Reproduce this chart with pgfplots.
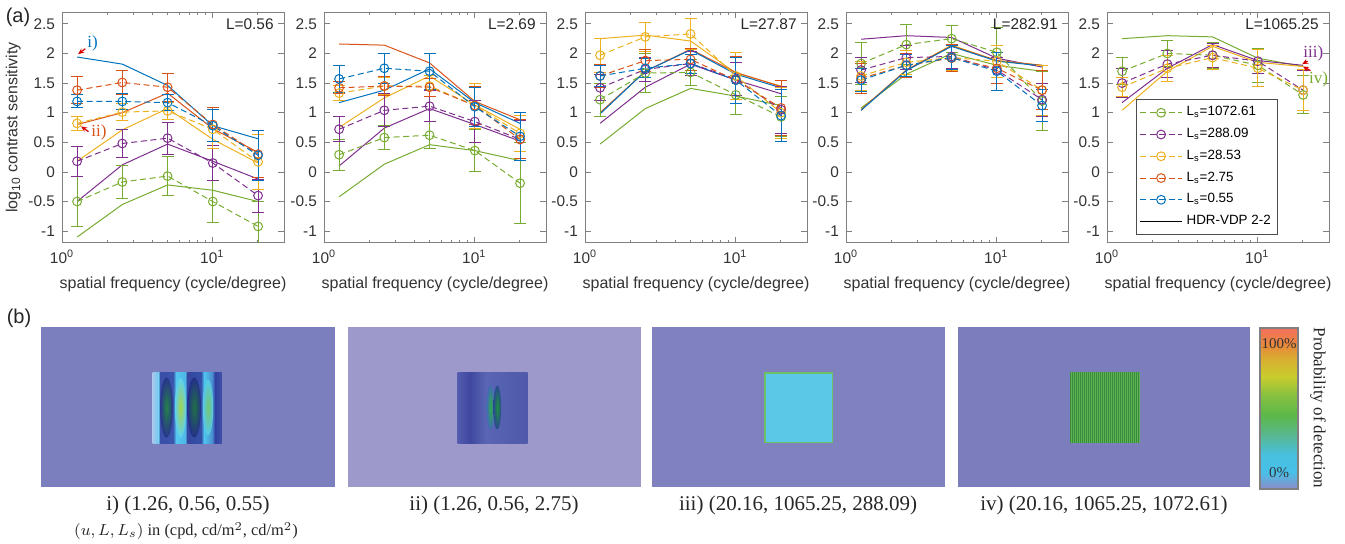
\documentclass[border=0pt]{standalone}
\usepackage{fontspec}
\setmainfont{Liberation Sans}
\newfontfamily\capfont{Liberation Serif}
\usepackage{pgfplots}
\pgfplotsset{compat=1.18}
\usetikzlibrary{arrows.meta}

\definecolor{mblue}{rgb}{0,0.447,0.741}
\definecolor{mred}{rgb}{0.85,0.325,0.098}
\definecolor{myel}{rgb}{0.929,0.694,0.125}
\definecolor{mpur}{rgb}{0.494,0.184,0.556}
\definecolor{mgrn}{rgb}{0.466,0.674,0.188}
\definecolor{bga}{RGB}{123,127,190}
\definecolor{bgb}{RGB}{157,153,203}
\definecolor{bgc}{RGB}{128,129,191}
\definecolor{bgd}{RGB}{123,125,189}
% image i)
\definecolor{ia}{HTML}{A6C8EC}\definecolor{ib}{HTML}{6FC8EE}\definecolor{ic}{HTML}{3A4FA8}
\definecolor{id}{HTML}{28358C}\definecolor{ie}{HTML}{3A55AC}\definecolor{if}{HTML}{55C6EE}
\definecolor{ig}{HTML}{5DD0F2}\definecolor{ih}{HTML}{4FB8E8}\definecolor{ii}{HTML}{3548A0}
\definecolor{ij}{HTML}{243088}\definecolor{ik}{HTML}{3550A8}\definecolor{il}{HTML}{50C4EC}
\definecolor{im}{HTML}{55C8EC}\definecolor{in}{HTML}{4A90D0}\definecolor{io}{HTML}{3040A0}
\definecolor{ip}{HTML}{2A3895}\definecolor{iq}{HTML}{4050A8}
\definecolor{ea}{HTML}{24824A}\definecolor{eb}{HTML}{A4D24C}\definecolor{ec}{HTML}{207244}
\definecolor{ed}{HTML}{74C870}
% image ii)
\definecolor{ja}{HTML}{525BAC}\definecolor{jb}{HTML}{3F48A0}\definecolor{jc}{HTML}{5A66B4}
\definecolor{jd}{HTML}{3C469E}\definecolor{je}{HTML}{5460B0}\definecolor{jf}{HTML}{3E48A0}
\definecolor{jg}{HTML}{5058AA}
\definecolor{ga}{HTML}{2FA850}\definecolor{gb}{HTML}{3F6EB0}\definecolor{gc}{HTML}{1F8E3E}
\definecolor{gd}{HTML}{2A4A90}
% images iii) and iv)
\definecolor{ka}{HTML}{6CC068}\definecolor{kb}{HTML}{5AC8E6}
\definecolor{la}{HTML}{368C3C}\definecolor{lb}{HTML}{60B254}
% colour bar
\definecolor{ca}{HTML}{F4705E}\definecolor{cb}{HTML}{E8883A}\definecolor{cc}{HTML}{D8B030}
\definecolor{cd}{HTML}{C8CC2C}\definecolor{ce}{HTML}{88C040}\definecolor{cf}{HTML}{5CB848}
\definecolor{cg}{HTML}{58B890}\definecolor{ch}{HTML}{48C0E0}\definecolor{ci}{HTML}{48C0E8}
\definecolor{cj}{HTML}{8C8CC8}

\newcommand\axfont{\fontsize{7.7}{9}\selectfont}
\newcommand\labfont{\fontsize{8}{9.5}\selectfont}
\newcommand\legfont{\fontsize{6.7}{8}\selectfont}

\pgfplotsset{
  panelax/.style={scale only axis, width=111pt, height=115.5pt, anchor=south west,
    xmin=1, xmax=30, ymin=-1.2, ymax=2.7,
    xtick={1,10}, xticklabels={10\textsuperscript{0},10\textsuperscript{1}},
    minor xtick={2,3,4,5,6,7,8,9,20,30},
    ytick={-1,-0.5,0,0.5,1,1.5,2,2.5}, yticklabels={-1,-0.5,0,0.5,1,1.5,2,2.5},
    tick align=inside, major tick length=3pt, minor tick length=1.7pt,
    axis line style={black!50, line width=0.5pt}, tick style={black!50, line width=0.4pt},
    tick label style={font=\axfont, black!80}, label style={font=\labfont, black!80},
    xlabel={spatial frequency (cycle/degree)}},
  lsdata/.style={/pgfplots/.cd, color=#1, line width=0.5pt, dash pattern=on 3pt off 1.8pt, mark=o, mark size=2.2pt,
    mark options={solid, line width=0.5pt},
    /pgfplots/error bars/y dir=both, /pgfplots/error bars/y explicit,
    /pgfplots/error bars/error bar style={solid, line width=0.5pt},
    /pgfplots/error bars/error mark options={solid, rotate=90, mark size=3pt, line width=0.5pt, #1}},
  vdpline/.style={/pgfplots/.cd, color=#1, line width=0.5pt, solid, no marks}
}

\begin{document}
\begin{tikzpicture}
\useasboundingbox (0,0) rectangle (672.5pt,-272pt);

% ---------------- L = 0.56
\begin{semilogxaxis}[panelax, at={(31pt,-121.5pt)}, ylabel={log\textsubscript{10} contrast sensitivity}, ylabel shift=-3pt]
\addplot[vdpline=mgrn] coordinates {(1.26,-1.10) (2.52,-0.55) (5.04,-0.22) (10.08,-0.31) (20.16,-0.50)};
\addplot[vdpline=mpur] coordinates {(1.26,-0.50) (2.52,0.12) (5.04,0.47) (10.08,0.18) (20.16,-0.12)};
\addplot[vdpline=myel] coordinates {(1.26,0.18) (2.52,0.71) (5.04,1.07) (10.08,0.55) (20.16,0.15)};
\addplot[vdpline=mred] coordinates {(1.26,0.80) (2.52,1.00) (5.04,1.33) (10.08,0.73) (20.16,0.33)};
\addplot[vdpline=mblue] coordinates {(1.26,1.94) (2.52,1.82) (5.04,1.46) (10.08,0.78) (20.16,0.56)};
\addplot[lsdata=mgrn] coordinates {(1.26,-0.50) +- (0,0.42) (2.52,-0.17) +- (0,0.28) (5.04,-0.07) +- (0,0.33) (10.08,-0.50) +- (0,0.35) (20.16,-0.92) +- (0,0.42)};
\addplot[lsdata=mpur] coordinates {(1.26,0.18) +- (0,0.25) (2.52,0.48) +- (0,0.24) (5.04,0.57) +- (0,0.27) (10.08,0.15) +- (0,0.30) (20.16,-0.40) +- (0,0.28)};
\addplot[lsdata=myel] coordinates {(1.26,0.82) +- (0,0.12) (2.52,1.01) +- (0,0.15) (5.04,1.03) +- (0,0.15) (10.08,0.72) +- (0,0.33) (20.16,0.17) +- (0,0.47)};
\addplot[lsdata=mred] coordinates {(1.26,1.38) +- (0,0.23) (2.52,1.51) +- (0,0.21) (5.04,1.43) +- (0,0.24) (10.08,0.80) +- (0,0.28) (20.16,0.30) +- (0,0.40)};
\addplot[lsdata=mblue] coordinates {(1.26,1.19) +- (0,0.11) (2.52,1.19) +- (0,0.13) (5.04,1.17) +- (0,0.13) (10.08,0.78) +- (0,0.27) (20.16,0.28) +- (0,0.42)};
\node[anchor=east, font=\axfont, black!85] at (rel axis cs:0.985,0.949) {L=0.56};
\draw[-{Stealth[length=3pt,width=2.6pt]}, red!85!black, line width=0.6pt] (axis cs:1.43,2.08) -- (axis cs:1.28,1.99);
\node[mblue, font=\capfont\fontsize{8.5}{9}\selectfont] at (axis cs:1.60,2.17) {i)};
\draw[-{Stealth[length=3pt,width=2.6pt]}, red!85!black, line width=0.6pt] (axis cs:1.50,0.68) -- (axis cs:1.34,0.77);
\node[mred, font=\capfont\fontsize{8.5}{9}\selectfont] at (axis cs:1.76,0.66) {ii)};
\end{semilogxaxis}

% ---------------- L = 2.69
\begin{semilogxaxis}[panelax, at={(162pt,-121.5pt)}]
\addplot[vdpline=mgrn] coordinates {(1.26,-0.42) (2.52,0.13) (5.04,0.46) (10.08,0.36) (20.16,0.19)};
\addplot[vdpline=mpur] coordinates {(1.26,0.10) (2.52,0.74) (5.04,1.07) (10.08,0.80) (20.16,0.52)};
\addplot[vdpline=myel] coordinates {(1.26,0.75) (2.52,1.25) (5.04,1.62) (10.08,1.13) (20.16,0.72)};
\addplot[vdpline=mred] coordinates {(1.26,2.16) (2.52,2.14) (5.04,1.84) (10.08,1.19) (20.16,0.88)};
\addplot[vdpline=mblue] coordinates {(1.26,1.17) (2.52,1.38) (5.04,1.74) (10.08,1.17) (20.16,0.82)};
\addplot[lsdata=mgrn] coordinates {(1.26,0.29) +- (0,0.26) (2.52,0.58) +- (0,0.20) (5.04,0.62) +- (0,0.23) (10.08,0.36) +- (0,0.36) (20.16,-0.19) +- (0,0.68)};
\addplot[lsdata=mpur] coordinates {(1.26,0.72) +- (0,0.21) (2.52,1.04) +- (0,0.28) (5.04,1.11) +- (0,0.26) (10.08,0.85) +- (0,0.35) (20.16,0.55) +- (0,0.32)};
\addplot[lsdata=myel] coordinates {(1.26,1.33) +- (0,0.13) (2.52,1.45) +- (0,0.15) (5.04,1.45) +- (0,0.17) (10.08,1.12) +- (0,0.38) (20.16,0.65) +- (0,0.30)};
\addplot[lsdata=mred] coordinates {(1.26,1.42) +- (0,0.10) (2.52,1.45) +- (0,0.16) (5.04,1.43) +- (0,0.15) (10.08,1.12) +- (0,0.32) (20.16,0.55) +- (0,0.33)};
\addplot[lsdata=mblue] coordinates {(1.26,1.57) +- (0,0.23) (2.52,1.75) +- (0,0.25) (5.04,1.70) +- (0,0.30) (10.08,1.10) +- (0,0.33) (20.16,0.60) +- (0,0.40)};
\node[anchor=east, font=\axfont, black!85] at (rel axis cs:0.985,0.949) {L=2.69};
\end{semilogxaxis}

% ---------------- L = 27.87
\begin{semilogxaxis}[panelax, at={(292.5pt,-121.5pt)}]
\addplot[vdpline=mgrn] coordinates {(1.26,0.47) (2.52,1.07) (5.04,1.41) (10.08,1.28) (20.16,1.12)};
\addplot[vdpline=mpur] coordinates {(1.26,0.82) (2.52,1.43) (5.04,1.82) (10.08,1.55) (20.16,1.32)};
\addplot[vdpline=myel] coordinates {(1.26,2.25) (2.52,2.31) (5.04,2.21) (10.08,1.67) (20.16,1.45)};
\addplot[vdpline=mred] coordinates {(1.26,1.00) (2.52,1.70) (5.04,2.07) (10.08,1.68) (20.16,1.44)};
\addplot[vdpline=mblue] coordinates {(1.26,0.98) (2.52,1.70) (5.04,2.06) (10.08,1.65) (20.16,1.42)};
\addplot[lsdata=mgrn] coordinates {(1.26,1.22) +- (0,0.28) (2.52,1.67) +- (0,0.33) (5.04,1.68) +- (0,0.22) (10.08,1.30) +- (0,0.33) (20.16,0.93) +- (0,0.34)};
\addplot[lsdata=mpur] coordinates {(1.26,1.42) +- (0,0.22) (2.52,1.73) +- (0,0.20) (5.04,1.83) +- (0,0.20) (10.08,1.57) +- (0,0.28) (20.16,1.05) +- (0,0.40)};
\addplot[lsdata=myel] coordinates {(1.26,1.97) +- (0,0.29) (2.52,2.28) +- (0,0.25) (5.04,2.33) +- (0,0.26) (10.08,1.62) +- (0,0.40) (20.16,1.00) +- (0,0.43)};
\addplot[lsdata=mred] coordinates {(1.26,1.62) +- (0,0.20) (2.52,1.88) +- (0,0.18) (5.04,1.90) +- (0,0.18) (10.08,1.55) +- (0,0.40) (20.16,1.08) +- (0,0.47)};
\addplot[lsdata=mblue] coordinates {(1.26,1.62) +- (0,0.18) (2.52,1.75) +- (0,0.16) (5.04,1.83) +- (0,0.16) (10.08,1.55) +- (0,0.39) (20.16,0.95) +- (0,0.44)};
\node[anchor=east, font=\axfont, black!85] at (rel axis cs:0.985,0.949) {L=27.87};
\end{semilogxaxis}

% ---------------- L = 282.91
\begin{semilogxaxis}[panelax, at={(423pt,-121.5pt)}]
\addplot[vdpline=mgrn] coordinates {(1.26,1.08) (2.52,1.65) (5.04,2.00) (10.08,1.80) (20.16,1.70)};
\addplot[vdpline=mpur] coordinates {(1.26,2.24) (2.52,2.30) (5.04,2.27) (10.08,1.92) (20.16,1.77)};
\addplot[vdpline=myel] coordinates {(1.26,1.05) (2.52,1.72) (5.04,2.14) (10.08,1.88) (20.16,1.80)};
\addplot[vdpline=mred] coordinates {(1.26,1.05) (2.52,1.72) (5.04,2.13) (10.08,1.88) (20.16,1.80)};
\addplot[vdpline=mblue] coordinates {(1.26,1.04) (2.52,1.71) (5.04,2.12) (10.08,1.87) (20.16,1.79)};
\addplot[lsdata=mgrn] coordinates {(1.26,1.83) +- (0,0.35) (2.52,2.15) +- (0,0.34) (5.04,2.25) +- (0,0.23) (10.08,2.02) +- (0,0.42) (20.16,1.20) +- (0,0.50)};
\addplot[lsdata=mpur] coordinates {(1.26,1.72) +- (0,0.21) (2.52,1.93) +- (0,0.20) (5.04,1.95) +- (0,0.20) (10.08,1.72) +- (0,0.22) (20.16,1.22) +- (0,0.28)};
\addplot[lsdata=myel] coordinates {(1.26,1.62) +- (0,0.24) (2.52,1.85) +- (0,0.20) (5.04,1.93) +- (0,0.22) (10.08,1.87) +- (0,0.27) (20.16,1.38) +- (0,0.42)};
\addplot[lsdata=mred] coordinates {(1.26,1.58) +- (0,0.25) (2.52,1.80) +- (0,0.20) (5.04,1.92) +- (0,0.23) (10.08,1.75) +- (0,0.26) (20.16,1.38) +- (0,0.33)};
\addplot[lsdata=mblue] coordinates {(1.26,1.55) +- (0,0.20) (2.52,1.80) +- (0,0.19) (5.04,1.93) +- (0,0.20) (10.08,1.70) +- (0,0.32) (20.16,1.12) +- (0,0.27)};
\node[anchor=east, font=\axfont, black!85] at (rel axis cs:0.985,0.949) {L=282.91};
\end{semilogxaxis}

% ---------------- L = 1065.25
\begin{semilogxaxis}[panelax, at={(553.5pt,-121.5pt)},
  legend style={font=\legfont, draw=black!70, line width=0.5pt, at={(0.131,0.623)}, anchor=north west,
    row sep=0.7pt, inner sep=1.5pt},
  legend cell align=left,
  legend image code/.code={\draw[mark repeat=2, mark phase=2, #1] plot coordinates {(0pt,0pt) (10.5pt,0pt) (21pt,0pt)};}]
\addplot[vdpline=mgrn, forget plot] coordinates {(1.26,2.25) (2.52,2.30) (5.04,2.28) (10.08,1.92) (20.16,1.78)};
\addplot[vdpline=mpur, forget plot] coordinates {(1.26,1.17) (2.52,1.75) (5.04,2.15) (10.08,1.88) (20.16,1.80)};
\addplot[vdpline=myel, forget plot] coordinates {(1.26,1.04) (2.52,1.70) (5.04,2.12) (10.08,1.85) (20.16,1.78)};
\addplot[lsdata=mgrn, forget plot] coordinates {(1.26,1.70) +- (0,0.23) (2.52,2.00) +- (0,0.22) (5.04,1.97) +- (0,0.22) (10.08,1.80) +- (0,0.29) (20.16,1.30) +- (0,0.32)};
\addplot[lsdata=mpur, forget plot] coordinates {(1.26,1.50) +- (0,0.25) (2.52,1.82) +- (0,0.23) (5.04,1.97) +- (0,0.20) (10.08,1.87) +- (0,0.20) (20.16,1.38) +- (0,0.34)};
\addplot[lsdata=myel, forget plot] coordinates {(1.26,1.43) +- (0,0.16) (2.52,1.75) +- (0,0.22) (5.04,1.93) +- (0,0.20) (10.08,1.75) +- (0,0.31) (20.16,1.38) +- (0,0.35)};
\addlegendimage{mgrn, line width=0.5pt, dash pattern=on 3pt off 1.8pt, mark=o, mark size=2.2pt, mark options={solid}}
\addlegendentry{L\textsubscript{s}=1072.61}
\addlegendimage{mpur, line width=0.5pt, dash pattern=on 3pt off 1.8pt, mark=o, mark size=2.2pt, mark options={solid}}
\addlegendentry{L\textsubscript{s}=288.09}
\addlegendimage{myel, line width=0.5pt, dash pattern=on 3pt off 1.8pt, mark=o, mark size=2.2pt, mark options={solid}}
\addlegendentry{L\textsubscript{s}=28.53}
\addlegendimage{mred, line width=0.5pt, dash pattern=on 3pt off 1.8pt, mark=o, mark size=2.2pt, mark options={solid}}
\addlegendentry{L\textsubscript{s}=2.75}
\addlegendimage{mblue, line width=0.5pt, dash pattern=on 3pt off 1.8pt, mark=o, mark size=2.2pt, mark options={solid}}
\addlegendentry{L\textsubscript{s}=0.55}
\addlegendimage{black, solid, line width=0.5pt}
\addlegendentry{HDR-VDP 2-2}
\node[anchor=east, font=\axfont, black!85] at (rel axis cs:0.985,0.949) {L=1065.25};
\draw[-{Stealth[length=3pt,width=2.6pt]}, red!85!black, line width=0.6pt] (axis cs:21.6,1.87) -- (axis cs:19.9,1.82);
\node[mpur, font=\capfont\fontsize{8.5}{9}\selectfont] at (axis cs:23.6,2.00) {iii)};
\draw[-{Stealth[length=3pt,width=2.6pt]}, red!85!black, line width=0.6pt] (axis cs:22.6,1.71) -- (axis cs:20.1,1.78);
\node[mgrn, font=\capfont\fontsize{8.5}{9}\selectfont] at (axis cs:25.6,1.57) {iv)};
\end{semilogxaxis}

% ---------------- part (b): detection maps, drawn in pixel coordinates
\begin{axis}[at={(0pt,0pt)}, anchor=north west, scale only axis, width=672.5pt, height=272pt,
  xmin=0, xmax=1345, ymin=0, ymax=544, y dir=reverse, hide axis, clip=false]
\node[font=\fontsize{10}{11}\selectfont, black!85] at (axis cs:18,17) {(a)};
\node[font=\fontsize{10}{11}\selectfont, black!85] at (axis cs:19,318) {(b)};
% i)
\fill[bga] (axis cs:41,327) rectangle (axis cs:335,487);
\shade[left color=ia, right color=ib] (axis cs:152.7,372) rectangle (axis cs:158.5,443);
\shade[left color=ib, right color=ic] (axis cs:158.5,372) rectangle (axis cs:160,443);
\shade[left color=ic, middle color=id, right color=ie] (axis cs:160,372) rectangle (axis cs:173,443);
\shade[left color=ie, right color=if] (axis cs:173,372) rectangle (axis cs:176,443);
\shade[left color=if, middle color=ig, right color=ih] (axis cs:176,372) rectangle (axis cs:185,443);
\shade[left color=ih, right color=ii] (axis cs:185,372) rectangle (axis cs:187.5,443);
\shade[left color=ii, middle color=ij, right color=ik] (axis cs:187.5,372) rectangle (axis cs:201,443);
\shade[left color=ik, right color=il] (axis cs:201,372) rectangle (axis cs:204,443);
\shade[left color=il, middle color=im, right color=in] (axis cs:204,372) rectangle (axis cs:212,443);
\shade[left color=in, right color=io] (axis cs:212,372) rectangle (axis cs:215,443);
\shade[left color=io, middle color=ip, right color=iq] (axis cs:215,372) rectangle (axis cs:221.7,443);
\shade[inner color=ea, outer color=id] (axis cs:166.5,407.5) ellipse [x radius=3.2pt, y radius=15pt];
\shade[inner color=eb, outer color=ig] (axis cs:180.5,407.5) ellipse [x radius=2.8pt, y radius=15pt];
\shade[inner color=ec, outer color=ij] (axis cs:194.2,407.5) ellipse [x radius=3.4pt, y radius=15pt];
\shade[inner color=ed, outer color=im] (axis cs:208,407.5) ellipse [x radius=2.6pt, y radius=14pt];
% ii)
\fill[bgb] (axis cs:348,327) rectangle (axis cs:641,487);
\shade[left color=ja, right color=jb] (axis cs:457.7,372) rectangle (axis cs:470,443);
\shade[left color=jb, right color=jc] (axis cs:470,372) rectangle (axis cs:486,443);
\shade[left color=jc, middle color=jd, right color=je] (axis cs:486,372) rectangle (axis cs:504,443);
\shade[left color=je, middle color=jf, right color=jg] (axis cs:504,372) rectangle (axis cs:527.7,443);
\shade[inner color=ga, outer color=gb] (axis cs:490.5,407.5) ellipse [x radius=1.9pt, y radius=11pt];
\shade[inner color=gc, outer color=gd] (axis cs:497.3,407.5) ellipse [x radius=1.9pt, y radius=11pt];
% iii)
\fill[bgc] (axis cs:652,327) rectangle (axis cs:945,487);
\fill[ka] (axis cs:764,372) rectangle (axis cs:833,443);
\fill[kb] (axis cs:765.5,373.5) rectangle (axis cs:831.5,441.5);
% iv)
\fill[bgd] (axis cs:957.5,327) rectangle (axis cs:1250,487);
\fill[la] (axis cs:1070,372) rectangle (axis cs:1140,443);
\pgfplotsinvokeforeach{0,...,34}{
  \fill[lb] (axis cs:{1070.6+2*#1},372) rectangle (axis cs:{1071.4+2*#1},443);
}
% colour bar
\shade[top color=ca, bottom color=cb] (axis cs:1260,328) rectangle (axis cs:1298,345);
\shade[top color=cb, bottom color=cc] (axis cs:1260,345) rectangle (axis cs:1298,360);
\shade[top color=cc, bottom color=cd] (axis cs:1260,360) rectangle (axis cs:1298,377);
\shade[top color=cd, bottom color=ce] (axis cs:1260,377) rectangle (axis cs:1298,395);
\shade[top color=ce, bottom color=cf] (axis cs:1260,395) rectangle (axis cs:1298,415);
\shade[top color=cf, bottom color=cg] (axis cs:1260,415) rectangle (axis cs:1298,435);
\shade[top color=cg, bottom color=ch] (axis cs:1260,435) rectangle (axis cs:1298,455);
\shade[top color=ch, bottom color=ci] (axis cs:1260,455) rectangle (axis cs:1298,472);
\shade[top color=ci, bottom color=cj] (axis cs:1260,472) rectangle (axis cs:1298,489);
\draw[black!50, line width=1.4pt] (axis cs:1260,328) rectangle (axis cs:1298,489);
\node[font=\capfont\fontsize{7.5}{8}\selectfont, black!80] at (axis cs:1279,344) {100\%};
\node[font=\capfont\fontsize{7.5}{8}\selectfont, black!80] at (axis cs:1279,473) {0\%};
\node[rotate=-90, font=\capfont\fontsize{8.5}{9}\selectfont, black!85] at (axis cs:1318,408) {Probability of detection};
% captions
\node[font=\capfont\fontsize{10.5}{11}\selectfont, black!85] at (axis cs:188,505) {i) (1.26, 0.56, 0.55)};
\node[font=\capfont\fontsize{8.2}{9}\selectfont, black!85] at (axis cs:186,531) {$(u, L, L_s)$ in (cpd, cd/m$^2$, cd/m$^2$)};
\node[font=\capfont\fontsize{10.5}{11}\selectfont, black!85] at (axis cs:494,505) {ii) (1.26, 0.56, 2.75)};
\node[font=\capfont\fontsize{10.5}{11}\selectfont, black!85] at (axis cs:798,505) {iii) (20.16, 1065.25, 288.09)};
\node[font=\capfont\fontsize{10.5}{11}\selectfont, black!85] at (axis cs:1104,505) {iv) (20.16, 1065.25, 1072.61)};
\end{axis}
\end{tikzpicture}
\end{document}
